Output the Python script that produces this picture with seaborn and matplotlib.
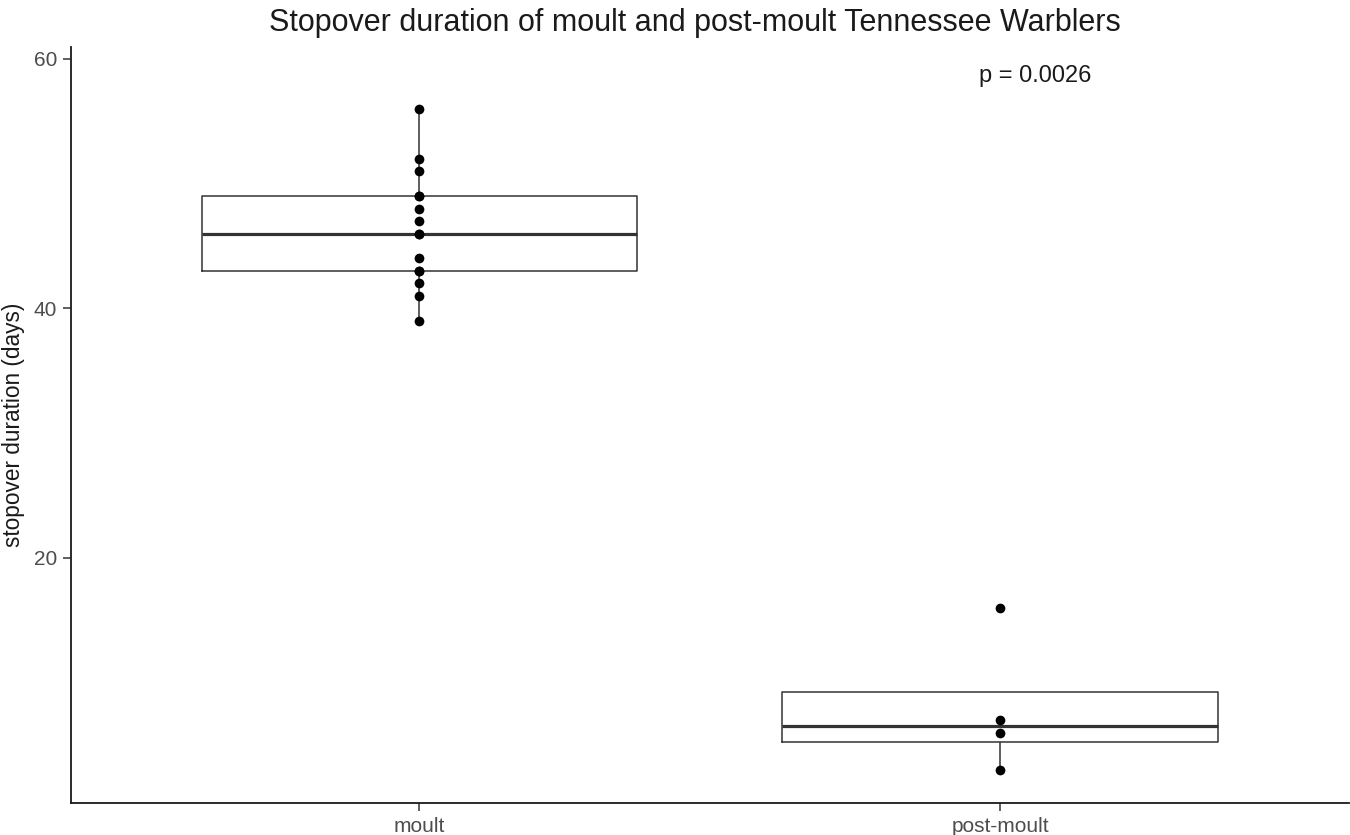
import pandas as pd
import matplotlib.pyplot as plt
import seaborn as sns

# STYLE
sns.set_style("ticks")
plt.rcParams['font.family'] = ['Liberation Sans', 'DejaVu Sans']

# DATA
groups = ["moult", "post-moult"]
moult_days = [39, 41, 42, 43, 43, 44, 46, 46, 47, 48, 49, 49, 51, 52, 56]
post_moult_days = [3, 6, 7, 16]
p_label = "p = 0.0026"

df = pd.DataFrame({
    "group": ["moult"] * len(moult_days) + ["post-moult"] * len(post_moult_days),
    "days": moult_days + post_moult_days,
})

fig = plt.figure(figsize=(13.5, 8.35), dpi=100)
ax = fig.add_axes([0.0526, 0.0383, 0.9464, 0.9054])

sns.boxplot(
    data=df, x="group", y="days", order=groups,
    width=0.75, fill=False, color="#333333", linewidth=1.1,
    showfliers=False, showcaps=False,
    medianprops=dict(linewidth=2.3, color="#333333"),
    ax=ax,
)

sns.stripplot(
    data=df, x="group", y="days", order=groups,
    jitter=False, color="black", size=7, ax=ax, zorder=5,
)

ax.text(1.06, 58.6, p_label, ha="center", va="center", fontsize=17, color="#1a1a1a")

ax.set_xlim(-0.6, 1.6)
ax.set_ylim(0.35, 60.95)
ax.set_yticks([20, 40, 60])

ax.set_xlabel("")
ax.set_ylabel("stopover duration (days)", fontsize=16.3, color="#1a1a1a", labelpad=6)
ax.tick_params(axis="both", labelsize=15, labelcolor="#4d4d4d", color="#333333",
               length=6, width=1.1, pad=4)

sns.despine(ax=ax)
for side in ["left", "bottom"]:
    ax.spines[side].set_color("#1a1a1a")
    ax.spines[side].set_linewidth(1.3)

fig.text(0.515, 0.973, "Stopover duration of moult and post-moult Tennessee Warblers",
         ha="center", va="center", fontsize=22, color="#1a1a1a")

fig.savefig("out.png", dpi=100)
